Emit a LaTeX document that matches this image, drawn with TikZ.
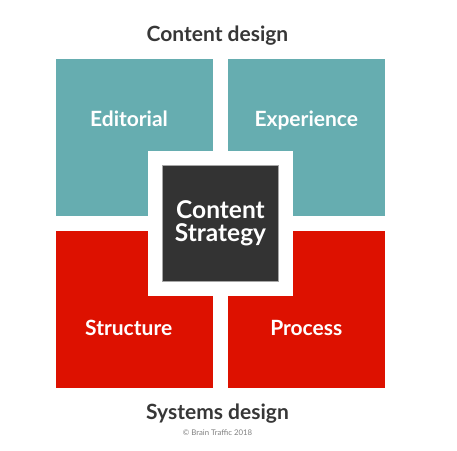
\documentclass[tikz,border=0pt]{standalone}
\usepackage{fontspec}
\setmainfont{Lato}
\usepackage{xcolor}
\usetikzlibrary{positioning}
\definecolor{designteal}{RGB}{102,173,176}
\definecolor{systemsred}{RGB}{221,17,0}
\definecolor{strategygray}{RGB}{51,51,51}
\definecolor{headgray}{RGB}{55,55,55}

\begin{document}
\begin{tikzpicture}[
        x=1pt, y=-1pt,
        quad/.style={rectangle, minimum size=157pt, inner sep=0pt},
        quadtext/.style={anchor=base, text=white, font=\bfseries\fontsize{21}{24}\selectfont},
        heading/.style={anchor=base, text=headgray, font=\bfseries\fontsize{21}{24}\selectfont}
    ]
        \useasboundingbox (0,0) rectangle (457,450);
        \node[quad, fill=designteal] (editorial) at (134.5,137.5) {};
        \node[quad, fill=designteal] (experience) at (306.5,137.5) {};
        \node[quad, fill=systemsred] (structure) at (134.5,309.5) {};
        \node[quad, fill=systemsred] (process) at (306.5,309.5) {};
        \node[quadtext] (editorialtext) at (129,126.7) {Editorial};
        \node[quadtext] (experiencetext) at (306.3,126.7) {Experience};
        \node[quadtext] (structuretext) at (128.7,335) {Structure};
        \node[quadtext] (processtext) at (306.3,335) {Process};
        % centre block
        \node[rectangle, fill=white, minimum size=145pt, inner sep=0pt] (frame) at (220.5,223.5) {};
        \node[rectangle, fill=strategygray, draw=gray!70, line width=0.6pt, minimum size=116pt, inner sep=0pt,
              text=white, align=center, font=\bfseries\fontsize{24.5}{22.5}\selectfont] (strategy) at (frame) {Content\\Strategy};
        \node[heading] (contentdesign) at (217.5,41.5) {Content design};
        \node[heading] (systemsdesign) at (217.5,419) {Systems design};
        \node[anchor=base, text=gray, font=\fontsize{7.8}{9}\selectfont] (copyright) at (217.5,435) {\textcopyright{} Brain Traffic 2018};
    \end{tikzpicture}
\end{document}
